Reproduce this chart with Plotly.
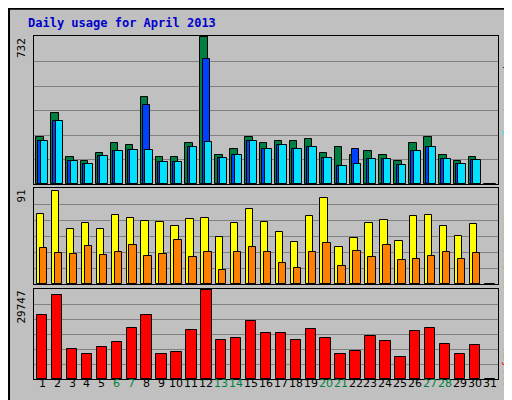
import plotly.graph_objects as go

days = list(range(1, 32))
weekend = [6, 7, 13, 14, 20, 21, 27, 28]
hits = [234,354,134,115,154,204,194,433,134,134,204,732,144,174,234,204,214,214,224,154,184,144,164,144,115,204,234,144,115,134,0]
files = [214,314,115,100,140,164,169,393,110,110,184,622,130,144,214,174,194,174,184,130,90,174,124,124,95,164,184,124,100,120,0]
pages = [214,314,115,100,140,164,169,169,110,110,184,209,130,144,214,174,194,174,184,130,90,100,124,124,95,164,184,124,100,120,0]
visits = [67,89,53,58,53,66,63,60,59,56,62,63,45,58,72,59,50,40,65,82,35,44,58,61,41,65,66,56,46,57,0]
sites = [34,30,29,36,28,31,37,27,29,42,26,31,13,31,35,31,20,15,31,39,17,32,26,37,23,24,27,31,24,30,0]
kbytes = [21200,28000,9900,8200,10600,12300,17100,21500,8200,8900,16400,29747,13000,13700,19500,15400,15400,13000,16800,13700,8500,9200,14400,12700,7200,16100,17100,11600,8500,11300,0]

BG = "#C0C0C0"
fig = go.Figure()
def bar(y, color, off, ax, w=0.5):
    fig.add_bar(x=days, y=y, marker=dict(color=color, line=dict(color="black", width=1)),
                width=w, offset=off, xaxis="x" + ax, yaxis="y" + ax, showlegend=False)
bar(hits, "#008040", -0.4, "")
bar(files, "#0040FF", -0.25, "")
bar(pages, "#00E0FF", -0.1, "")
bar(visits, "#FFFF00", -0.35, "2")
bar(sites, "#FF8000", -0.15, "2")
bar(kbytes, "#FF0000", -0.35, "3", w=0.7)

xd = [26/512, 490/512]
doms = [[1-176/400, 1-28/400], [1-276/400, 1-180/400], [1-371/400, 1-281/400]]
maxes = [732, 91, 29747]
for i, (d, m) in enumerate(zip(doms, maxes)):
    s = "" if i == 0 else str(i+1)
    fig.layout["xaxis"+s] = dict(domain=xd, range=[0.45, 31.55], anchor="y"+s,
        showticklabels=False, showgrid=False, zeroline=False, showline=True,
        linecolor="black", mirror=True, ticks="")
    fig.layout["yaxis"+s] = dict(domain=d, range=[0, m*1.01], anchor="x"+s,
        tickvals=[m*k/6 for k in range(1, 6)], showticklabels=False,
        gridcolor="#808080", zeroline=False, showline=True, linecolor="black", mirror=True)
    fig.add_annotation(text=str(m), x=13/512, y=d[1], xref="paper", yref="paper",
        textangle=-90, xanchor="center", yanchor="top", showarrow=False,
        font=dict(family="DejaVu Sans Mono", size=11, color="black"))

def side(parts, ytop):
    y = ytop
    for t, c in parts:
        fig.add_annotation(text=t, x=500/512, y=1-y/400, xref="paper", yref="paper",
            textangle=90, xanchor="center", yanchor="top", showarrow=False,
            font=dict(family="DejaVu Sans Mono", size=11, color=c))
        y += len(t) * 6.7 + 1
side([("Hits", "#008040"), ("/", "black"), ("Files", "#0040FF"), ("/", "black"), ("Pages", "#00E0FF")], 28)
side([("Visits", "#CCCC00"), ("/", "black"), ("Sites", "#FF8000")], 198)
side([("KBytes", "#FF0000")], 338)

for d in days:
    fig.add_annotation(text=str(d), x=d, y=1-384/400, xref="x3", yref="paper", showarrow=False,
        font=dict(family="DejaVu Sans", size=11, color="#008040" if d in weekend else "black"))

fig.add_annotation(text="<b>Daily usage for April 2013</b>", x=18/512, y=1-15/400, xref="paper", yref="paper",
    xanchor="left", yanchor="middle", showarrow=False,
    font=dict(family="DejaVu Sans Mono", size=12, color="#0000CC"))

fig.update_layout(width=512, height=400, margin=dict(l=0, r=0, t=0, b=0),
    paper_bgcolor=BG, plot_bgcolor=BG, barmode="overlay", bargap=0,
    shapes=[dict(type="rect", xref="paper", yref="paper", x0=0.002, y0=0.002, x1=0.998, y1=0.998,
                 line=dict(color="black", width=2))])
fig.write_html("out.html")
